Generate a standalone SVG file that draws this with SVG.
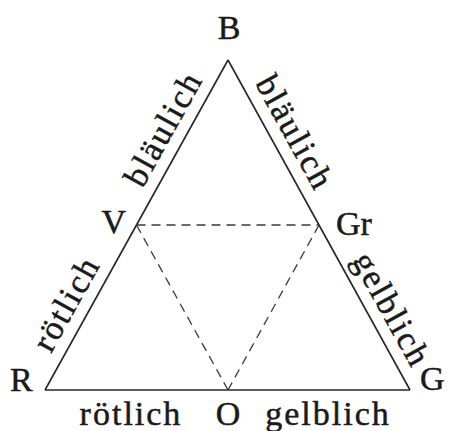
<svg xmlns="http://www.w3.org/2000/svg" width="449" height="431" viewBox="0 0 449 431">
<style>
  text { font-family: "Liberation Serif", "Times New Roman", serif; font-size: 34px; fill: #1a1a1a; stroke: #1a1a1a; stroke-width: 0.5; }
  .lbl { letter-spacing: 2px; }
  .solid { stroke: #262626; stroke-width: 1.6; fill: none; }
  .dash { stroke: #3a3a3a; stroke-width: 1.3; fill: none; stroke-dasharray: 9 6; }
</style>
<rect width="449" height="431" fill="#ffffff"/>
<g id="connectors">
  <line class="solid" x1="228" y1="60" x2="45" y2="390"/>
  <line class="solid" x1="228" y1="60" x2="410" y2="390"/>
  <line class="solid" x1="45" y1="390" x2="410" y2="390"/>
  <line class="dash" x1="136.5" y1="225" x2="319" y2="225"/>
  <line class="dash" x1="136.5" y1="225" x2="228" y2="390"/>
  <line class="dash" x1="319" y1="225" x2="228" y2="390"/>
</g>
<g id="edge-labels">
  <text class="lbl" text-anchor="middle" transform="translate(173,134) rotate(-61)">bläulich</text>
  <text class="lbl" text-anchor="middle" transform="translate(76,309) rotate(-61)">rötlich</text>
  <text class="lbl" text-anchor="middle" transform="translate(285,138) rotate(61.1)">bläulich</text>
  <text class="lbl" text-anchor="middle" transform="translate(382,315) rotate(61.1)">gelblich</text>
  <text class="lbl" text-anchor="middle" x="131" y="425">rötlich</text>
  <text class="lbl" text-anchor="middle" x="328" y="425">gelblich</text>
</g>
<g id="B"><text text-anchor="middle" x="229" y="39">B</text></g>
<g id="R"><text x="10" y="391">R</text></g>
<g id="G"><text x="420" y="390">G</text></g>
<g id="V"><text text-anchor="end" x="126" y="233">V</text></g>
<g id="Gr"><text x="336" y="235">Gr</text></g>
<g id="O"><text text-anchor="middle" x="228" y="425">O</text></g>
</svg>
